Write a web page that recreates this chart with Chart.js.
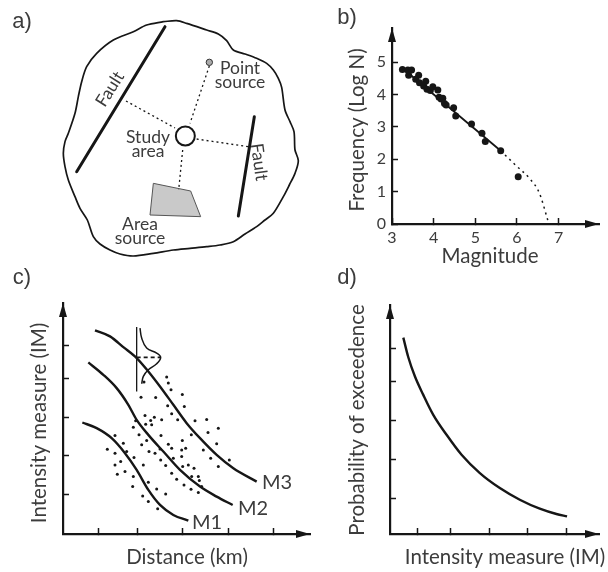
<!DOCTYPE html>
<html>
<head>
<meta charset="utf-8">
<title>Seismic hazard steps</title>
<script src="https://cdn.jsdelivr.net/npm/chart.js@4/dist/chart.umd.min.js"></script>
<style>
  html, body { margin: 0; padding: 0; background: #fff; }
  body { width: 608px; height: 572px; position: relative; overflow: hidden; }
  canvas { position: absolute; }
</style>
</head>
<body>
<canvas id="panelA" width="330" height="260" style="left:0;top:0"></canvas>
<canvas id="panelB" width="278" height="272" style="left:330px;top:0"></canvas>
<canvas id="panelC" width="330" height="312" style="left:0;top:260px"></canvas>
<canvas id="panelD" width="278" height="312" style="left:330px;top:260px"></canvas>
<script>
// a) source map, in map units
const boundaryX = [490, 530, 560, 620, 655, 680, 700, 735, 770, 800, 820, 835, 845, 855, 870, 882, 885, 895, 885, 868, 850, 820, 795, 770, 735, 700, 660, 620, 570, 520, 460, 400, 360, 330, 300, 280, 262, 240, 225, 205, 195, 190, 195, 205, 225, 235, 245, 260, 290, 340, 400, 440, 490];
const boundaryY = [65, 62, 70, 90, 102, 122, 150, 162, 175, 190, 210, 235, 262, 330, 365, 395, 450, 482, 520, 555, 590, 640, 660, 680, 702, 725, 735, 740, 745, 750, 760, 768, 762, 750, 732, 710, 660, 625, 590, 540, 500, 460, 425, 400, 340, 290, 245, 200, 160, 120, 95, 75, 65];
const fault1X = [495, 230];
const fault1Y = [80, 515];
const fault2X = [763, 715];
const fault2Y = [350, 648];
const areaX = [460, 572, 602, 450, 460];
const areaY = [550, 573, 650, 645, 550];
const linkPointX = [628, 570];
const linkPointY = [198, 370];
const linkFault1X = [378, 525];
const linkFault1Y = [303, 384];
const linkFault2X = [590, 750];
const linkFault2Y = [417, 441];
const linkAreaX = [548, 536];
const linkAreaY = [450, 570];
const studyX = [556];
const studyY = [408];
const pointSrcX = [628];
const pointSrcY = [187];

// b) Gutenberg-Richter
const magnitudeTicks = [3, 4, 5, 6, 7];
const logNTicks = [0, 1, 2, 3, 4, 5];
const magnitudes = [3.25, 3.40, 3.38, 3.47, 3.64, 3.57, 3.66, 3.81, 3.76, 3.84, 3.92, 3.98, 4.10, 4.13, 4.18, 4.22, 4.26, 4.30, 4.48, 4.53, 4.91, 5.16, 5.24, 5.61, 6.03];
const logN = [4.77, 4.59, 4.75, 4.75, 4.59, 4.47, 4.36, 4.41, 4.26, 4.16, 4.12, 4.24, 4.14, 3.91, 3.86, 3.88, 3.72, 3.67, 3.59, 3.33, 3.09, 2.80, 2.55, 2.26, 1.46];
const fitM = [3.26, 5.61];
const fitN = [4.80, 2.26];
const taperM = [5.61, 5.98, 6.30, 6.54, 6.74];
const taperN = [2.26, 1.80, 1.41, 0.95, 0.12];

// c) attenuation, arbitrary units
const distTicks = [106, 223, 359, 495, 631];
const imTicks = [117, 234, 350, 466, 566];
const m3X = [96, 141, 181, 221, 256, 291, 331, 371, 411, 461, 511, 581];
const m3Y = [610, 592, 560, 527, 487, 442, 387, 332, 287, 237, 197, 157];
const m2X = [76, 121, 161, 196, 221, 256, 301, 351, 411, 461, 509];
const m2Y = [514, 477, 437, 387, 342, 297, 247, 192, 142, 112, 87];
const m1X = [58, 101, 146, 186, 221, 256, 291, 331, 376];
const m1Y = [334, 317, 287, 242, 192, 132, 87, 57, 40];
const recordX = [156, 181, 133, 156, 191, 213, 173, 156, 186, 163, 211, 256, 209, 281, 308, 239, 256, 284, 241, 228, 211, 218, 246, 274, 263, 266, 296, 248, 234, 278, 243, 311, 316, 324, 358, 364, 314, 326, 344, 396, 431, 466, 435, 385, 294, 251, 236, 316, 358, 461, 421, 326, 291, 258, 276, 356, 368, 443, 499, 466, 331, 293, 308, 356, 376, 359, 393, 326, 341, 363, 384, 406, 416, 386, 406, 409];
const recordY = [295, 272, 254, 242, 247, 229, 217, 207, 187, 179, 172, 155, 142, 135, 120, 114, 97, 76, 207, 297, 320, 339, 355, 350, 340, 327, 342, 329, 410, 409, 455, 470, 452, 432, 418, 382, 384, 360, 342, 339, 343, 317, 304, 297, 295, 280, 267, 269, 280, 270, 252, 257, 255, 247, 242, 252, 257, 227, 222, 202, 227, 222, 205, 232, 207, 202, 197, 182, 164, 147, 134, 124, 142, 172, 172, 160];
const stemX = [221, 221];
const stemY = [620, 427];
const bellX = [231, 236, 251, 281, 293, 281, 256, 241, 236];
const bellY = [617, 587, 557, 542, 529, 510, 492, 472, 450];
const medianX = [221, 291];
const medianY = [529, 529];

// d) hazard curve, arbitrary units
const hazardXTicks = [82, 182, 298, 414, 530];
const hazardYTicks = [108, 225, 341, 457, 557];
const hazardX = [40, 55, 75, 100, 130, 170, 215, 270, 330, 390, 450, 500, 532];
const hazardY = [590, 531, 473, 418, 358, 298, 238, 183, 138, 103, 76, 60, 53];

const INK = '#161616';
const TEXT = '#3c3c3c';
const FONT = 'Lato, "Open Sans", sans-serif';

const pairs = (xs, ys) => xs.map((x, i) => ({ x: x, y: ys[i] }));

function curve(xs, ys, width, extra) {
    return Object.assign({
        data: pairs(xs, ys),
        showLine: true,
        borderColor: INK,
        borderWidth: width,
        pointRadius: 0,
        tension: 0.4,
        fill: false
    }, extra || {});
}

function dots(xs, ys, radius, extra) {
    return Object.assign({
        data: pairs(xs, ys),
        showLine: false,
        pointRadius: radius,
        pointBackgroundColor: INK,
        pointBorderWidth: 0
    }, extra || {});
}

// text placed in page pixels, so rotated labels and titles can sit where they do in the figure
const notesPlugin = {
    id: 'notes',
    afterDraw(chart, args, opts) {
        const ctx = chart.ctx;
        const box = chart.canvas;
        (opts.items || []).forEach(n => {
            ctx.save();
            ctx.translate(n.x - box.offsetLeft, n.y - box.offsetTop);
            ctx.rotate((n.rot || 0) * Math.PI / 180);
            ctx.font = (n.size || 14) + 'px ' + (n.font || FONT);
            ctx.fillStyle = TEXT;
            ctx.textAlign = 'center';
            ctx.textBaseline = 'middle';
            ctx.fillText(n.text, 0, 0);
            ctx.restore();
        });
    }
};

const arrowsPlugin = {
    id: 'arrows',
    afterDraw(chart, args, opts) {
        if (!opts.show) return;
        const ctx = chart.ctx;
        const a = chart.chartArea;
        ctx.fillStyle = INK;
        ctx.beginPath();
        ctx.moveTo(a.left, a.top);
        ctx.lineTo(a.left - 4, a.top + 14);
        ctx.lineTo(a.left + 4, a.top + 14);
        ctx.closePath();
        ctx.moveTo(a.right, a.bottom);
        ctx.lineTo(a.right - 14, a.bottom - 4);
        ctx.lineTo(a.right - 14, a.bottom + 4);
        ctx.closePath();
        ctx.fill();
    }
};

function axis(size, min, max, tickValues, showLabels, labelPad) {
    return {
        type: 'linear',
        min: min,
        max: max,
        afterBuildTicks: s => { s.ticks = tickValues.map(v => ({ value: v })); },
        afterFit: s => {
            if (s.isHorizontal()) s.height = size; else s.width = size;
        },
        ticks: {
            display: showLabels,
            autoSkip: false,
            maxRotation: 0,
            padding: labelPad,
            color: TEXT,
            font: { family: FONT, size: 16 },
            callback: v => String(v)
        },
        grid: { drawOnChartArea: false, tickLength: -6, tickColor: INK, tickWidth: 1.5 },
        border: { color: INK, width: 2.2 }
    };
}

function panel(id, datasets, scales, padding, notes, arrows) {
    return new Chart(document.getElementById(id), {
        type: 'scatter',
        data: { datasets: datasets },
        options: {
            responsive: false,
            animation: false,
            layout: { padding: padding, autoPadding: false },
            scales: scales,
            plugins: {
                legend: { display: false },
                tooltip: { enabled: false },
                notes: { items: notes },
                arrows: { show: arrows }
            }
        },
        plugins: [notesPlugin, arrowsPlugin]
    });
}

const LETTER = { size: 22, font: '"Liberation Sans", sans-serif' };
const SMOOTH = { cubicInterpolationMode: 'monotone' };

panel('panelA', [
    curve(linkPointX, linkPointY, 1.3, { borderDash: [2, 3], tension: 0 }),
    curve(linkFault1X, linkFault1Y, 1.3, { borderDash: [2, 3], tension: 0 }),
    curve(linkFault2X, linkFault2Y, 1.3, { borderDash: [2, 3], tension: 0 }),
    curve(linkAreaX, linkAreaY, 1.3, { borderDash: [2, 3], tension: 0 }),
    curve(boundaryX, boundaryY, 1.7, { tension: 0.3 }),
    curve(fault1X, fault1Y, 3, { tension: 0, borderCapStyle: 'round' }),
    curve(fault2X, fault2Y, 3, { tension: 0, borderCapStyle: 'round' }),
    curve(areaX, areaY, 1, { tension: 0, fill: 'shape', backgroundColor: '#c9c9c9', borderColor: '#555' }),
    dots(studyX, studyY, 9.5, { pointBackgroundColor: '#fff', pointBorderColor: INK, pointBorderWidth: 2 }),
    dots(pointSrcX, pointSrcY, 3.2, { pointBackgroundColor: '#aaa', pointBorderColor: '#333', pointBorderWidth: 1 })
], {
    x: { type: 'linear', display: false, min: 0, max: 990 },
    y: { type: 'linear', display: false, min: 0, max: 780, reverse: true }
}, 0, [
    Object.assign({ text: 'a)', x: 22, y: 22 }, LETTER),
    { text: 'Fault', x: 110, y: 89, rot: -58, size: 17.5 },
    { text: 'Fault', x: 259, y: 162, rot: 82, size: 17.5 },
    { text: 'Point', x: 240, y: 68, size: 17.5 },
    { text: 'source', x: 240, y: 82, size: 17.5 },
    { text: 'Study', x: 148, y: 137, size: 17.5 },
    { text: 'area', x: 148, y: 151, size: 17.5 },
    { text: 'Area', x: 140, y: 224, size: 17.5 },
    { text: 'source', x: 140, y: 238, size: 17.5 }
], false);

panel('panelB', [
    curve(taperM, taperN, 1.5, Object.assign({ borderDash: [2, 4] }, SMOOTH)),
    curve(fitM, fitN, 1.8, { tension: 0 }),
    dots(magnitudes, logN, 3.5)
], {
    x: axis(48, 3, 7.97, magnitudeTicks, true, 10),
    y: axis(62, 0, 6.05, logNTicks, true, 12)
}, { top: 28, right: 9 }, [
    Object.assign({ text: 'b)', x: 347, y: 18 }, LETTER),
    { text: 'Magnitude', x: 490, y: 256, size: 20.5 },
    { text: 'Frequency (Log N)', x: 357, y: 130, rot: -90, size: 20.5 }
], true);

panel('panelC', [
    dots(recordX, recordY, 1.5),
    curve(m3X, m3Y, 2.4, SMOOTH),
    curve(m2X, m2Y, 2.4, SMOOTH),
    curve(m1X, m1Y, 2.4, SMOOTH),
    curve(stemX, stemY, 1.3, { tension: 0 }),
    curve(bellX, bellY, 1.5),
    curve(medianX, medianY, 1.6, { tension: 0, borderDash: [4, 3] })
], {
    x: axis(38, 0, 741, distTicks, false, 0),
    y: axis(63, 0, 692, imTicks, false, 0)
}, { top: 43, right: 20 }, [
    Object.assign({ text: 'c)', x: 22, y: 278 }, LETTER),
    { text: 'M3', x: 277, y: 483, size: 20 },
    { text: 'M2', x: 253, y: 509, size: 20 },
    { text: 'M1', x: 207, y: 523, size: 20 },
    { text: 'Distance (km)', x: 187, y: 557, size: 20.5 },
    { text: 'Intensity measure (IM)', x: 39, y: 423, rot: -90, size: 20.5 }
], true);

panel('panelD', [
    curve(hazardX, hazardY, 2.4, SMOOTH)
], {
    x: axis(38, 0, 628, hazardXTicks, false, 0),
    y: axis(60, 0, 688, hazardYTicks, false, 0)
}, { top: 45, right: 9 }, [
    Object.assign({ text: 'd)', x: 347, y: 278 }, LETTER),
    { text: 'Intensity measure (IM)', x: 505, y: 557, size: 20.5 },
    { text: 'Probability of exceedence', x: 357, y: 420, rot: -90, size: 20.5 }
], true);
</script>
</body>
</html>
